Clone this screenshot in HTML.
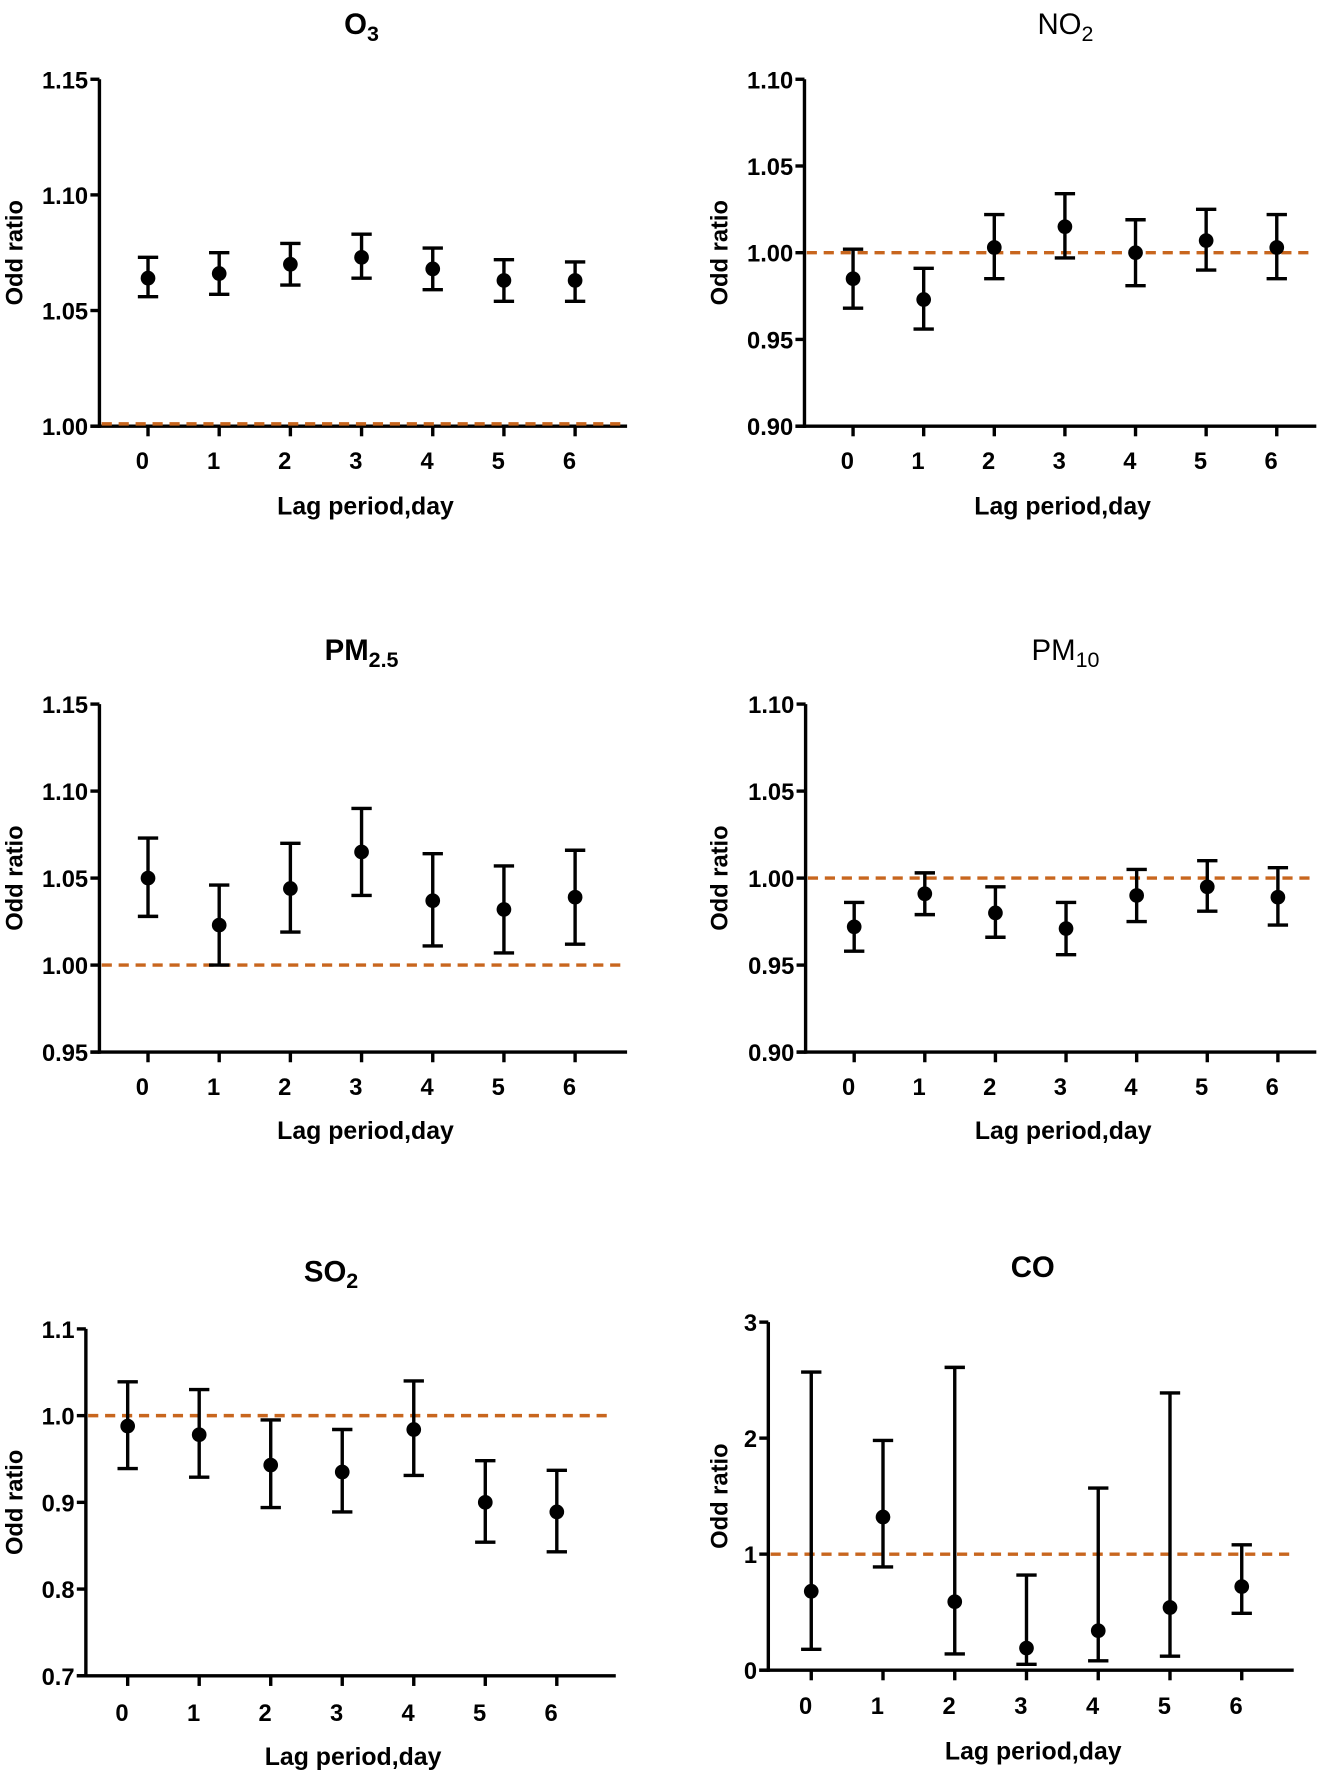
<!DOCTYPE html>
<html><head><meta charset="utf-8"><style>
html,body{margin:0;padding:0;background:#fff;}
svg{display:block;font-family:"Liberation Sans",Arial,sans-serif;}
</style></head><body>
<svg id="fig" width="1331" height="1772" viewBox="0 0 1178 1568" xmlns="http://www.w3.org/2000/svg"></svg>
<script>
const lags = [0,1,2,3,4,5,6];
const o3Est = [1.064,1.066,1.070,1.073,1.068,1.063,1.063];
const o3Lo  = [1.056,1.057,1.061,1.064,1.059,1.054,1.054];
const o3Hi  = [1.073,1.075,1.079,1.083,1.077,1.072,1.071];
const no2Est = [0.985,0.973,1.003,1.015,1.000,1.007,1.003];
const no2Lo  = [0.968,0.956,0.985,0.997,0.981,0.990,0.985];
const no2Hi  = [1.002,0.991,1.022,1.034,1.019,1.025,1.022];
const pm25Est = [1.050,1.023,1.044,1.065,1.037,1.032,1.039];
const pm25Lo  = [1.028,1.000,1.019,1.040,1.011,1.007,1.012];
const pm25Hi  = [1.073,1.046,1.070,1.090,1.064,1.057,1.066];
const pm10Est = [0.972,0.991,0.980,0.971,0.990,0.995,0.989];
const pm10Lo  = [0.958,0.979,0.966,0.956,0.975,0.981,0.973];
const pm10Hi  = [0.986,1.003,0.995,0.986,1.005,1.010,1.006];
const so2Est = [0.988,0.978,0.943,0.935,0.984,0.900,0.889];
const so2Lo  = [0.939,0.929,0.894,0.889,0.931,0.854,0.843];
const so2Hi  = [1.039,1.030,0.995,0.984,1.040,0.948,0.937];
const coEst = [0.68,1.32,0.59,0.19,0.34,0.54,0.72];
const coLo  = [0.18,0.89,0.14,0.05,0.08,0.12,0.49];
const coHi  = [2.57,1.98,2.61,0.82,1.57,2.39,1.08];
const o3Ticks = ["1.00","1.05","1.10","1.15"];
const no2Ticks = ["0.90","0.95","1.00","1.05","1.10"];
const pm25Ticks = ["0.95","1.00","1.05","1.10","1.15"];
const pm10Ticks = ["0.90","0.95","1.00","1.05","1.10"];
const so2Ticks = ["0.7","0.8","0.9","1.0","1.1"];
const coTicks = ["0","1","2","3"];
const refValue = 1.0;

const NS="http://www.w3.org/2000/svg";
const svg=document.getElementById('fig');
function mk(tag,attrs,parent){const e=document.createElementNS(NS,tag);for(const k in attrs)e.setAttribute(k,attrs[k]);(parent||svg).appendChild(e);return e;}

const panels=[
 {id:'o3',title:'O',sub:'3',bold:true,ax:88,x0:131,dx:63,xend:555,top:70,bot:377,ticks:o3Ticks,est:o3Est,lo:o3Lo,hi:o3Hi,ty:20,tx:320,labY:407,xtY:447,ylx:12},
 {id:'no2',title:'NO',sub:'2',bold:false,ax:712,x0:755,dx:62.5,xend:1165,top:70,bot:377,ticks:no2Ticks,est:no2Est,lo:no2Lo,hi:no2Hi,ty:20,tx:943,labY:407,xtY:447,ylx:636},
 {id:'pm25',title:'PM',sub:'2.5',bold:true,ax:88,x0:131,dx:63,xend:555,top:623,bot:931,ticks:pm25Ticks,est:pm25Est,lo:pm25Lo,hi:pm25Hi,ty:574,tx:320,labY:961,xtY:1000,ylx:12},
 {id:'pm10',title:'PM',sub:'10',bold:false,ax:713,x0:756,dx:62.5,xend:1165,top:623,bot:931,ticks:pm10Ticks,est:pm10Est,lo:pm10Lo,hi:pm10Hi,ty:574,tx:943,labY:961,xtY:1000,ylx:636},
 {id:'so2',title:'SO',sub:'2',bold:true,ax:76,x0:113,dx:63.3,xend:545,top:1176,bot:1483,ticks:so2Ticks,est:so2Est,lo:so2Lo,hi:so2Hi,ty:1124,tx:293,labY:1515,xtY:1554,ylx:12},
 {id:'co',title:'CO',sub:'',bold:true,ax:680,x0:718,dx:63.5,xend:1145,top:1170,bot:1478,ticks:coTicks,est:coEst,lo:coLo,hi:coHi,ty:1120,tx:914,labY:1509,xtY:1549,ylx:636}
];

panels.forEach(p=>{
  const g=mk('g',{});
  
  
  const vmin=parseFloat(p.ticks[0]), vmax=parseFloat(p.ticks[p.ticks.length-1]);
  const y=v=>p.bot-(v-vmin)/(vmax-vmin)*(p.bot-p.top);
  const x=i=>p.x0+lags[i]*p.dx;
  const t=mk('text',{x:p.tx,y:p.ty+10,'text-anchor':'middle','font-size':26,'font-weight':p.bold?'bold':'normal',fill:'#000'},g);
  
  
  t.textContent=p.title;
  if(p.sub){const s=mk('tspan',{'font-size':19,dy:6},t);s.textContent=p.sub;}
  const yl=mk('text',{x:0,y:0,transform:`translate(${p.ylx+8},${(p.top+p.bot)/2}) rotate(-90)`,'text-anchor':'middle','font-size':21,'font-weight':'bold'},g);
  
  
  yl.textContent='Odd ratio';
  const ya=mk('line',{x1:p.ax,x2:p.ax,y1:p.top,y2:p.bot+1.5,stroke:'#000','stroke-width':3},g);
  
  
  const xa=mk('line',{x1:p.ax-8,x2:p.xend,y1:p.bot,y2:p.bot,stroke:'#000','stroke-width':3},g);
  
  
  const ry=Math.min(y(refValue),p.bot-2);
  const rl=mk('line',{x1:p.ax+2,x2:p.xend-2,y1:ry,y2:ry,stroke:'#c8661e','stroke-width':3,'stroke-dasharray':'9,6'},g);
  
  
  p.ticks.forEach(tk=>{
    const v=parseFloat(tk);
    mk('line',{x1:p.ax-8,x2:p.ax,y1:y(v),y2:y(v),stroke:'#000','stroke-width':3},g);
    const tl=mk('text',{x:p.ax-10,y:y(v)+8,'text-anchor':'end','font-size':21,'font-weight':'bold'},g);
    
    
    tl.textContent=tk;
  });
  lags.forEach((l,i)=>{
    mk('line',{x1:x(i),x2:x(i),y1:p.bot,y2:p.bot+9,stroke:'#000','stroke-width':3},g);
    const xl=mk('text',{x:x(i)-5,y:p.labY+8,'text-anchor':'middle','font-size':21,'font-weight':'bold'},g);
    
    
    xl.textContent=String(l);
    const eb=mk('path',{d:`M${x(i)},${y(p.lo[i])}V${y(p.hi[i])}M${x(i)-9},${y(p.lo[i])}H${x(i)+9}M${x(i)-9},${y(p.hi[i])}H${x(i)+9}`,stroke:'#000','stroke-width':3,fill:'none'},g);
    
    
    const pt=mk('circle',{cx:x(i),cy:y(p.est[i]),r:6.5,fill:'#000'},g);
    
    
  });
  const xt=mk('text',{x:(p.ax+p.xend)/2+2,y:p.xtY+8,'text-anchor':'middle','font-size':22,'font-weight':'bold'},g);
  
  
  xt.textContent='Lag period,day';
});
</script>
</body></html>
